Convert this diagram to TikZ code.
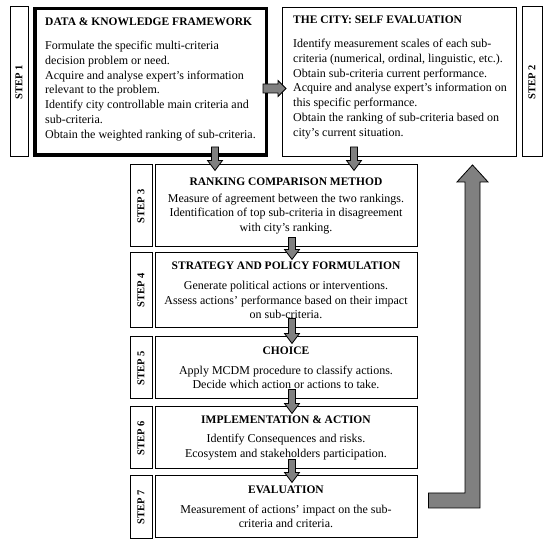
\documentclass[tikz,border=0pt]{standalone}
\usepackage{fontspec}
\setmainfont{Liberation Serif}
\usetikzlibrary{calc}

\newcommand{\boxfont}{\fontsize{12pt}{14.7pt}\selectfont}
\newcommand{\boxtitle}[1]{{\fontsize{11.5pt}{14.7pt}\selectfont\bfseries #1}}
\newcommand{\stepfont}{\fontsize{10.5pt}{12pt}\selectfont\bfseries}
\definecolor{arrowgray}{RGB}{128,128,128}

% gray block arrow pointing down, from #1 (top of shaft) to #2 (tip)
\newcommand{\downblock}[2]{%
  \draw[blockarrow] ($(#1)+(-3.5,0)$) -- ($(#2)+(-3.5,-10)$) -- ($(#2)+(-7.5,-10)$)
    -- (#2) -- ($(#2)+(7.5,-10)$) -- ($(#2)+(3.5,-10)$) -- ($(#1)+(3.5,0)$) -- cycle;}

\begin{document}
\begin{tikzpicture}[x=1pt, y=-1pt,
    bigbox/.style={draw, inner sep=0pt},
    boxtext/.style={anchor=north west, inner sep=0pt, align=left, font=\boxfont},
    stepbox/.style={draw, line width=1pt, minimum width=262pt, inner sep=0pt, align=center, font=\boxfont},
    steplabel/.style={draw, line width=1pt, inner sep=0pt, font=\stepfont},
    blockarrow/.style={draw=black, line width=0.8pt, fill=arrowgray, line join=miter}]

        \useasboundingbox (0,0) rectangle (550,545);

        % top row: framework and city
        \node[bigbox, line width=3.5pt, minimum width=231.5pt, minimum height=146.5pt] (fw) at (150.5,82) {};
        \node[bigbox, line width=0.9pt, minimum width=234pt, minimum height=149pt] (city) at (399.5,82) {};

        \node[boxtext] (fwtext) at (45,18) {\boxtitle{DATA \& KNOWLEDGE FRAMEWORK}\\[9.3pt]
            Formulate the specific multi-criteria\\
            decision problem or need.\\
            Acquire and analyse expert's information\\
            relevant to the problem.\\
            Identify city controllable main criteria and\\
            sub-criteria.\\
            Obtain the weighted ranking of sub-criteria.};
        \node[boxtext] (citytext) at (293,16) {\boxtitle{THE CITY: SELF EVALUATION}\\[9.3pt]
            Identify measurement scales of each sub-\\
            criteria (numerical, ordinal, linguistic, etc.).\\
            Obtain sub-criteria current performance.\\
            Acquire and analyse expert's information on\\
            this specific performance.\\
            Obtain the ranking of sub-criteria based on\\
            city's current situation.};

        \node[steplabel, rotate=90, minimum width=150pt, minimum height=18pt] (l1) at (19,82) {STEP 1};
        \node[steplabel, rotate=90, minimum width=150pt, minimum height=20pt] (l2) at (532,82) {STEP 2};

        % steps 3 to 7
        \node[stepbox, minimum height=82pt] (s3) at (286,206) {\boxtitle{RANKING COMPARISON METHOD}\\[2pt]
            Measure of agreement between the two rankings.\\
            Identification of top sub-criteria in disagreement\\
            with city's ranking.};
        \node[stepbox, minimum height=75pt] (s4) at (286,290.5) {\boxtitle{STRATEGY AND POLICY FORMULATION}\\[5pt]
            Generate political actions or interventions.\\
            Assess actions' performance based on their impact\\
            on sub-criteria.};
        \node[stepbox, minimum height=62pt] (s5) at (286,368) {\boxtitle{CHOICE}\\[5pt]
            Apply MCDM procedure to classify actions.\\
            Decide which action or actions to take.};
        \node[stepbox, minimum height=62pt] (s6) at (286,438) {\boxtitle{IMPLEMENTATION \& ACTION}\\[4pt]
            Identify Consequences and risks.\\
            Ecosystem and stakeholders participation.};
        \node[stepbox, minimum height=62pt] (s7) at (286,507) {\boxtitle{EVALUATION}\\[5pt]
            Measurement of actions' impact on the sub-\\
            criteria and criteria.};

        \foreach \n/\yc/\h in {3/206/82, 4/290.5/75, 5/368/62, 6/438/62, 7/507/63} {
            \node[steplabel, rotate=90, minimum width=\h pt, minimum height=22pt] (l\n) at (141,\yc) {STEP \n};
        }

        % arrow from framework to city
        \coordinate (ha) at ($(fw.east)+(-5,6.5)$);
        \coordinate (hb) at ($(city.west)+(4,6.5)$);
        \draw[blockarrow] ($(ha)+(0,-4.5)$) -- ($(hb)+(-8,-4.5)$) -- ($(hb)+(-8,-8)$) -- (hb)
            -- ($(hb)+(-8,8)$) -- ($(hb)+(-8,4.5)$) -- ($(ha)+(0,4.5)$) -- cycle;

        % arrows down into the ranking comparison
        \coordinate (fwa) at ($(fw.south)+(64.5,-10)$);
        \coordinate (fwb) at ($(s3.north)+(-71,6)$);
        \downblock{fwa}{fwb}
        \coordinate (cia) at ($(city.south)+(-45.5,-10)$);
        \coordinate (cib) at ($(s3.north)+(68,6)$);
        \downblock{cia}{cib}

        % arrows between the steps
        \foreach \a/\b in {s3/s4, s4/s5, s5/s6, s6/s7} {
            \coordinate (top) at ($(\a.south)+(6,-10)$);
            \coordinate (tip) at ($(\b.north)+(6,7)$);
            \downblock{top}{tip}
        }

        % return arrow from evaluation back to the city
        \coordinate (rb) at ($(s7.east)+(11,-6.5)$);
        \coordinate (rt) at ($(city.south)+(73,8)$);
        \draw[blockarrow] ($(rb)+(0,-7.5)$) -- ($(rb -| rt)+(-7.5,-7.5)$) -- ($(rt)+(-7.5,17)$)
            -- ($(rt)+(-15.5,17)$) -- (rt) -- ($(rt)+(15.5,17)$) -- ($(rt)+(7.5,17)$)
            -- ($(rb -| rt)+(7.5,7.5)$) -- ($(rb)+(0,7.5)$) -- cycle;

    \end{tikzpicture}
\end{document}
